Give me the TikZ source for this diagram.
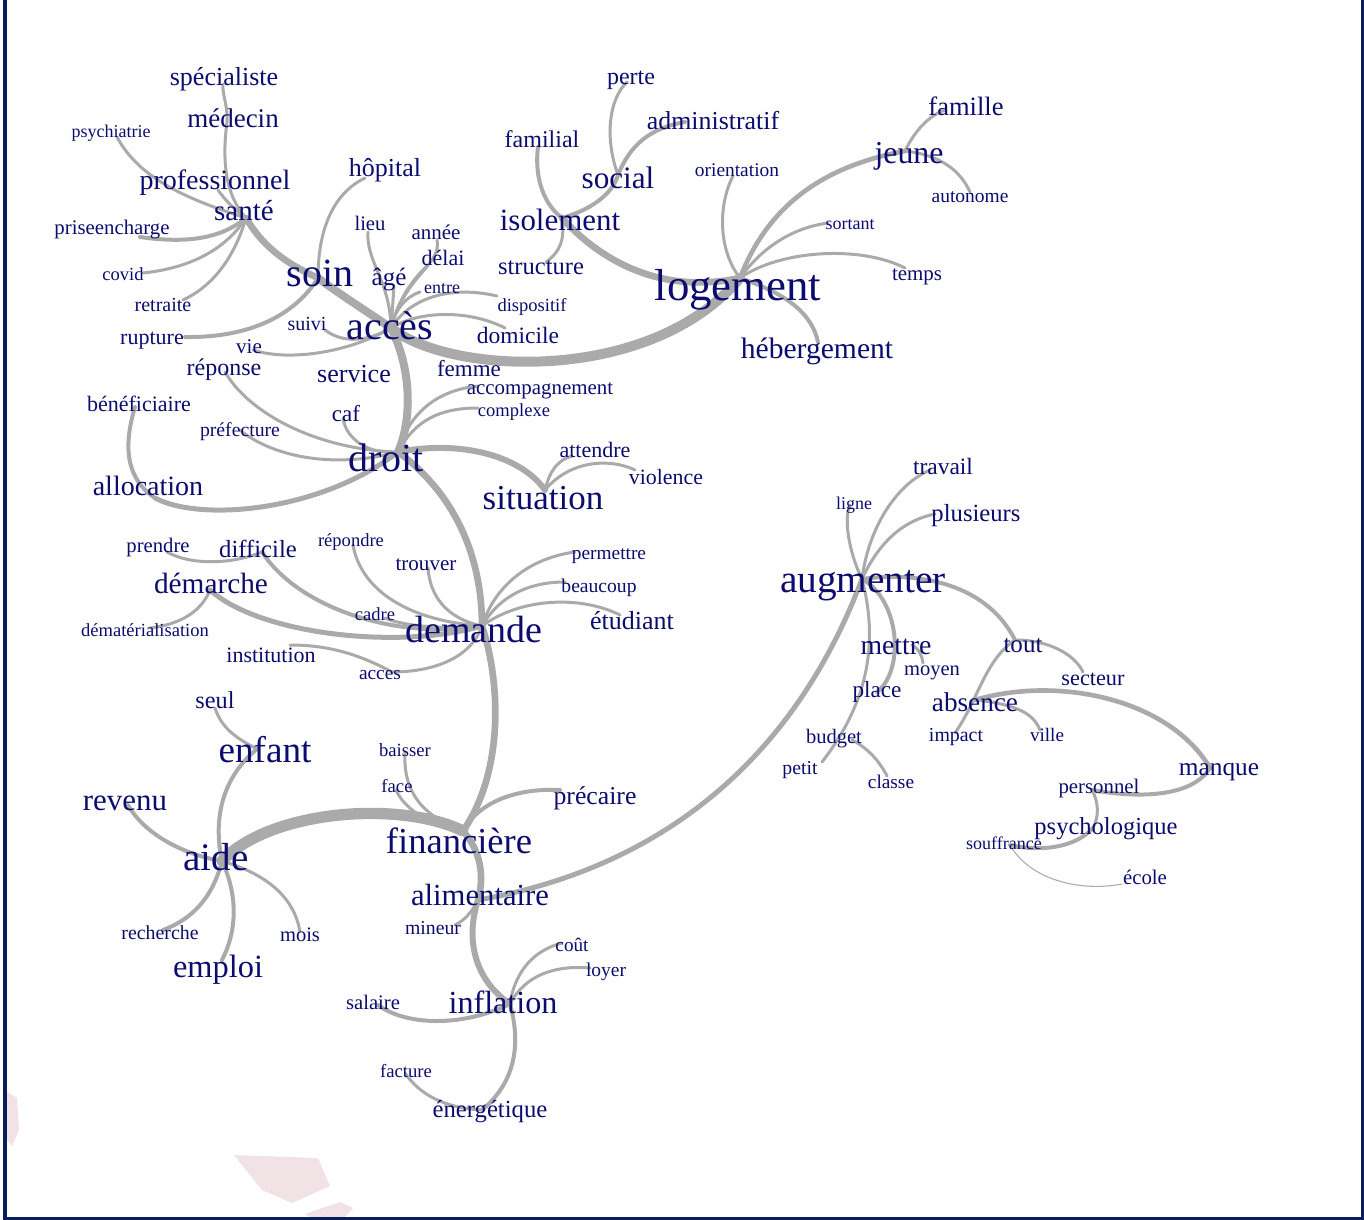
\documentclass[tikz,border=0pt]{standalone}
\usepackage{fontspec}
\setmainfont{Liberation Serif}
\begin{document}
\definecolor{wordc}{RGB}{12,12,112}
\definecolor{edgec}{RGB}{170,170,170}
\definecolor{framec}{RGB}{8,30,92}
\definecolor{stainc}{RGB}{240,226,229}
\begin{tikzpicture}[x=0.75pt,y=-0.75pt,
  w/.style={text=wordc,inner sep=0pt,yshift=-2.25pt,font=\fontsize{#1}{#1}\selectfont,execute at begin node=\vphantom{lp}},
  e/.style={draw=edgec,line width=#1,line cap=round},
  e/.default=2.25pt]
\useasboundingbox (0,0) rectangle (1364,1220);
% faint stains
\fill[stainc] (7,1092) -- (17,1098) -- (19,1130) -- (12,1146) -- (7,1140) -- cycle;
\fill[stainc] (234,1155) -- (318,1158) -- (330,1186) -- (292,1203) -- (262,1190) -- cycle;
\fill[stainc] (305,1214) -- (340,1202) -- (353,1208) -- (345,1217) -- (310,1217) -- cycle;
% anchor points
\coordinate (p-spec) at (223,84);
\coordinate (p-med) at (227,122);
\coordinate (p-prof) at (218,190);
\coordinate (p-psy) at (117,137);
\coordinate (p-prise) at (140,237);
\coordinate (p-covid) at (143,273);
\coordinate (p-retr) at (183,300);
\coordinate (p-rupt) at (185,337);
\coordinate (p-sante) at (246,218);
\coordinate (p-soin) at (318,278);
\coordinate (p-hop) at (365,178);
\coordinate (p-lieu) at (368,232);
\coordinate (p-annee) at (437,240);
\coordinate (p-delai) at (428,265);
\coordinate (p-age) at (394,286);
\coordinate (p-entre) at (420,292);
\coordinate (p-suivi) at (325,330);
\coordinate (p-vie) at (253,350);
\coordinate (p-acces) at (391,328);
\coordinate (p-reponse) at (225,372);
\coordinate (p-prefecture) at (240,430);
\coordinate (p-caf) at (343,418);
\coordinate (p-droit) at (398,452);
\coordinate (p-benef) at (135,407);
\coordinate (p-alloc) at (155,498);
\coordinate (p-accomp) at (478,386);
\coordinate (p-complexe) at (478,408);
\coordinate (p-situation) at (545,490);
\coordinate (p-attendre) at (572,456);
\coordinate (p-violence) at (635,470);
\coordinate (p-perte) at (627,82);
\coordinate (p-admin) at (685,122);
\coordinate (p-familial) at (538,147);
\coordinate (p-social) at (618,175);
\coordinate (p-isol) at (562,218);
\coordinate (p-struct) at (546,262);
\coordinate (p-disp) at (497,296);
\coordinate (p-domicile) at (505,328);
\coordinate (p-orient) at (733,176);
\coordinate (p-logement) at (740,278);
\coordinate (p-heberg) at (818,342);
\coordinate (p-jeune) at (905,151);
\coordinate (p-famille) at (945,110);
\coordinate (p-autonome) at (970,192);
\coordinate (p-sortant) at (828,223);
\coordinate (p-temps) at (905,268);
\coordinate (p-prendre) at (167,552);
\coordinate (p-difficile) at (262,552);
\coordinate (p-repondre) at (353,545);
\coordinate (p-trouver) at (428,568);
\coordinate (p-demarche) at (210,590);
\coordinate (p-demat) at (150,628);
\coordinate (p-cadre) at (385,618);
\coordinate (p-demande) at (482,626);
\coordinate (p-permettre) at (575,552);
\coordinate (p-beaucoup) at (565,582);
\coordinate (p-etudiant) at (620,615);
\coordinate (p-institution) at (290,645);
\coordinate (p-acces2) at (392,672);
\coordinate (p-seul) at (215,708);
\coordinate (p-enfant) at (257,749);
\coordinate (p-revenu) at (128,805);
\coordinate (p-aide) at (222,861);
\coordinate (p-recherche) at (163,930);
\coordinate (p-mois) at (300,932);
\coordinate (p-emploi) at (222,960);
\coordinate (p-baisser) at (405,752);
\coordinate (p-face) at (396,790);
\coordinate (p-precaire) at (560,790);
\coordinate (p-fin) at (463,831);
\coordinate (p-alim) at (478,900);
\coordinate (p-mineur) at (455,925);
\coordinate (p-cout) at (562,943);
\coordinate (p-loyer) at (590,968);
\coordinate (p-salaire) at (378,1005);
\coordinate (p-inflation) at (510,1004);
\coordinate (p-facture) at (405,1073);
\coordinate (p-energ) at (482,1110);
\coordinate (p-travail) at (930,470);
\coordinate (p-ligne) at (850,505);
\coordinate (p-plusieurs) at (935,514);
\coordinate (p-augm) at (862,579);
\coordinate (p-place) at (877,692);
\coordinate (p-petit) at (822,762);
\coordinate (p-mettre) at (912,645);
\coordinate (p-moyen) at (923,663);
\coordinate (p-budget) at (852,740);
\coordinate (p-classe) at (887,776);
\coordinate (p-tout) at (1015,640);
\coordinate (p-impact) at (955,733);
\coordinate (p-secteur) at (1083,672);
\coordinate (p-absence) at (975,700);
\coordinate (p-ville) at (1040,730);
\coordinate (p-manque) at (1210,768);
\coordinate (p-personnel) at (1092,790);
\coordinate (p-psycho) at (1093,828);
\coordinate (p-souff) at (1010,845);
\coordinate (p-ecole) at (1122,884);
% ---------- edges ----------
% sante cluster
\draw[e] (p-spec) .. controls (222,95) and (228,105) .. (p-med);
\draw[e] (p-med) .. controls (222,160) and (225,195) .. (p-sante);
\draw[e] (p-prof) .. controls (225,200) and (235,210) .. (p-sante);
\draw[e] (p-psy) .. controls (140,180) and (190,200) .. (p-sante);
\draw[e=3pt] (p-prise) .. controls (195,245) and (225,235) .. (p-sante);
\draw[e] (p-covid) .. controls (190,268) and (225,250) .. (p-sante);
\draw[e] (p-retr) .. controls (215,285) and (235,255) .. (p-sante);
\draw[e=5pt] (p-sante) .. controls (265,250) and (290,265) .. (p-soin);
\draw[e=3pt] (p-rupt) .. controls (250,338) and (295,315) .. (p-soin);
\draw[e] (p-hop) .. controls (330,195) and (318,235) .. (p-soin);
\draw[e=6pt] (p-soin) .. controls (345,298) and (368,312) .. (p-acces);
% acces cluster
\draw[e] (p-lieu) .. controls (366,262) and (390,280) .. (p-acces);
\draw[e] (p-age) .. controls (393,300) and (392,315) .. (p-acces);
\draw[e] (p-annee) .. controls (442,265) and (405,275) .. (p-acces);
\draw[e] (p-delai) .. controls (412,280) and (398,300) .. (p-acces);
\draw[e] (p-entre) .. controls (405,297) and (395,310) .. (p-acces);
\draw[e] (p-suivi) .. controls (345,345) and (370,340) .. (p-acces);
\draw[e] (p-vie) .. controls (290,362) and (350,352) .. (p-acces);
\draw[e] (p-acces) .. controls (410,298) and (450,285) .. (p-disp);
\draw[e] (p-acces) .. controls (420,310) and (470,310) .. (p-domicile);
\draw[e=7.5pt] (p-acces) .. controls (450,375) and (650,385) .. (p-logement);
\draw[e=6pt] (p-acces) .. controls (412,370) and (412,420) .. (p-droit);
% isolement / logement
\draw[e=5pt] (p-isol) .. controls (600,260) and (660,295) .. (p-logement);
\draw[e=3pt] (p-isol) .. controls (590,210) and (612,195) .. (p-social);
\draw[e=3pt] (p-familial) .. controls (534,180) and (545,205) .. (p-isol);
\draw[e] (p-struct) .. controls (560,252) and (565,240) .. (p-isol);
\draw[e] (p-social) .. controls (605,140) and (608,100) .. (p-perte);
\draw[e=3pt] (p-social) .. controls (630,145) and (650,128) .. (p-admin);
\draw[e] (p-orient) .. controls (718,205) and (718,250) .. (p-logement);
\draw[e=3.5pt] (p-logement) .. controls (770,200) and (830,165) .. (p-jeune);
\draw[e] (p-logement) .. controls (760,250) and (790,228) .. (p-sortant);
\draw[e] (p-logement) .. controls (780,250) and (860,245) .. (p-temps);
\draw[e=3pt] (p-logement) .. controls (790,295) and (812,315) .. (p-heberg);
\draw[e] (p-jeune) .. controls (915,130) and (930,115) .. (p-famille);
\draw[e] (p-jeune) .. controls (940,155) and (960,170) .. (p-autonome);
% droit cluster
\draw[e] (p-reponse) .. controls (250,415) and (320,450) .. (p-droit);
\draw[e] (p-prefecture) .. controls (270,455) and (330,470) .. (p-droit);
\draw[e] (p-caf) .. controls (346,440) and (370,455) .. (p-droit);
\draw[e=3pt] (p-benef) .. controls (122,450) and (128,480) .. (p-alloc);
\draw[e=3.75pt] (p-alloc) .. controls (200,522) and (320,512) .. (p-droit);
\draw[e] (p-droit) .. controls (410,410) and (440,390) .. (p-accomp);
\draw[e] (p-droit) .. controls (415,420) and (440,408) .. (p-complexe);
\draw[e=4.5pt] (p-droit) .. controls (460,440) and (520,455) .. (p-situation);
\draw[e] (p-situation) .. controls (550,470) and (558,460) .. (p-attendre);
\draw[e] (p-situation) .. controls (570,460) and (610,458) .. (p-violence);
\draw[e=5pt] (p-droit) .. controls (450,490) and (482,550) .. (p-demande);
% demande cluster
\draw[e] (p-demande) .. controls (495,585) and (530,558) .. (p-permettre);
\draw[e] (p-demande) .. controls (500,595) and (530,582) .. (p-beaucoup);
\draw[e] (p-demande) .. controls (520,598) and (580,595) .. (p-etudiant);
\draw[e] (p-trouver) .. controls (430,595) and (445,618) .. (p-demande);
\draw[e] (p-repondre) .. controls (360,585) and (400,620) .. (p-demande);
\draw[e] (p-cadre) .. controls (400,625) and (440,630) .. (p-demande);
\draw[e=3pt] (p-difficile) .. controls (300,610) and (400,640) .. (p-demande);
\draw[e=3.75pt] (p-demarche) .. controls (260,635) and (400,650) .. (p-demande);
\draw[e] (p-prendre) .. controls (190,565) and (230,565) .. (p-difficile);
\draw[e] (p-demarche) .. controls (200,615) and (175,625) .. (p-demat);
\draw[e] (p-institution) .. controls (330,645) and (360,655) .. (p-acces2);
\draw[e] (p-acces2) .. controls (430,672) and (470,660) .. (p-demande);
\draw[e=5pt] (p-demande) .. controls (500,680) and (505,770) .. (p-fin);
% aide cluster
\draw[e] (p-seul) .. controls (222,730) and (240,740) .. (p-enfant);
\draw[e=3pt] (p-enfant) .. controls (225,775) and (212,815) .. (p-aide);
\draw[e=3pt] (p-revenu) .. controls (145,835) and (185,855) .. (p-aide);
\draw[e=8.5pt] (p-aide) .. controls (270,810) and (400,800) .. (p-fin);
\draw[e=3pt] (p-aide) .. controls (212,900) and (190,920) .. (p-recherche);
\draw[e=3pt] (p-aide) .. controls (240,900) and (235,935) .. (p-emploi);
\draw[e] (p-aide) .. controls (270,875) and (295,900) .. (p-mois);
% financiere cluster
\draw[e] (p-baisser) .. controls (403,790) and (420,815) .. (p-fin);
\draw[e] (p-face) .. controls (405,810) and (430,825) .. (p-fin);
\draw[e=3pt] (p-fin) .. controls (480,800) and (520,788) .. (p-precaire);
\draw[e=5pt] (p-fin) .. controls (480,850) and (485,875) .. (p-alim);
\draw[e=3.75pt] (p-alim) .. controls (650,870) and (790,770) .. (p-augm);
\draw[e] (p-alim) .. controls (472,912) and (465,920) .. (p-mineur);
\draw[e=4.5pt] (p-alim) .. controls (465,940) and (475,980) .. (p-inflation);
\draw[e] (p-inflation) .. controls (515,970) and (535,950) .. (p-cout);
\draw[e] (p-inflation) .. controls (525,975) and (555,965) .. (p-loyer);
\draw[e=3pt] (p-inflation) .. controls (460,1028) and (405,1025) .. (p-salaire);
\draw[e=3pt] (p-inflation) .. controls (520,1040) and (518,1080) .. (p-energ);
\draw[e] (p-facture) .. controls (420,1095) and (445,1108) .. (p-energ);
% augmenter cluster
\draw[e] (p-augm) .. controls (868,530) and (895,485) .. (p-travail);
\draw[e] (p-augm) .. controls (850,555) and (843,520) .. (p-ligne);
\draw[e] (p-augm) .. controls (880,540) and (905,520) .. (p-plusieurs);
\draw[e=3pt] (p-augm) .. controls (930,570) and (990,590) .. (p-tout);
\draw[e=3pt] (p-augm) .. controls (900,600) and (905,670) .. (p-place);
\draw[e] (p-augm) .. controls (878,640) and (870,700) .. (p-petit);
\draw[e] (p-mettre) .. controls (920,650) and (922,656) .. (p-moyen);
\draw[e] (p-budget) .. controls (868,748) and (880,762) .. (p-classe);
\draw[e] (p-tout) .. controls (985,660) and (978,700) .. (p-impact);
\draw[e] (p-tout) .. controls (1050,640) and (1075,655) .. (p-secteur);
\draw[e] (p-absence) .. controls (1025,705) and (1035,718) .. (p-ville);
\draw[e=3.5pt] (p-absence) .. controls (1060,675) and (1170,700) .. (p-manque);
\draw[e=3pt] (p-manque) .. controls (1190,800) and (1130,797) .. (p-personnel);
\draw[e] (p-personnel) .. controls (1100,805) and (1098,818) .. (p-psycho);
\draw[e=3pt] (p-psycho) .. controls (1075,848) and (1040,852) .. (p-souff);
\draw[e=0.8pt] (p-souff) .. controls (1030,880) and (1080,892) .. (p-ecole);
% ---------- words ----------
\node[w=19.5] (specialiste) at (224,76) {spécialiste};
\node[w=20.25] (medecin) at (233,118) {médecin};
\node[w=13.5] (psychiatrie) at (111,130) {psychiatrie};
\node[w=21] (professionnel) at (215,180) {professionnel};
\node[w=21.75] (sante) at (244,211) {santé};
\node[w=15.6] (priseencharge) at (112,227) {priseencharge};
\node[w=13.9] (covid) at (123,273) {covid};
\node[w=15] (retraite) at (163,304) {retraite};
\node[w=16.5] (rupture) at (152,336) {rupture};
\node[w=19.5] (hopital) at (385,167) {hôpital};
\node[w=30] (soin) at (320,274) {soin};
\node[w=15.5] (lieu) at (370,223) {lieu};
\node[w=15.75] (annee) at (436,231) {année};
\node[w=16.5] (delai) at (443,257) {délai};
\node[w=18.75] (age) at (389,276) {âgé};
\node[w=13.5] (entre) at (442,286) {entre};
\node[w=15] (suivi) at (307,323) {suivi};
\node[w=30] (acces) at (390,327) {accès};
\node[w=15.75] (vie) at (249,345) {vie};
\node[w=18] (reponse) at (224,367) {réponse};
\node[w=19.5] (service) at (354,373) {service};
\node[w=17.25] (femme) at (469,368) {femme};
\node[w=15.7] (accompagnement) at (540,386) {accompagnement};
\node[w=13.9] (complexe) at (514,409) {complexe};
\node[w=16.5] (beneficiaire) at (139,403) {bénéficiaire};
\node[w=14.8] (prefecture) at (240,429) {préfecture};
\node[w=17.25] (caf) at (346,413) {caf};
\node[w=30] (droit) at (386,459) {droit};
\node[w=21] (allocation) at (148,486) {allocation};
\node[w=16.5] (attendre) at (595,449) {attendre};
\node[w=16.4] (violence) at (666,476) {violence};
\node[w=26.25] (situation) at (543,498) {situation};
\node[w=18] (perte) at (631,76) {perte};
\node[w=19.4] (administratif) at (713,120) {administratif};
\node[w=18] (familial) at (542,139) {familial};
\node[w=23.4] (social) at (618,178) {social};
\node[w=14.55] (orientation) at (737,169) {orientation};
\node[w=23.2] (isolement) at (560,220) {isolement};
\node[w=18.4] (structure) at (541,266) {structure};
\node[w=13.9] (dispositif) at (532,304) {dispositif};
\node[w=17.6] (domicile) at (518,335) {domicile};
\node[w=33.6] (logement) at (738,287) {logement};
\node[w=22.2] (hebergement) at (817,348) {hébergement};
\node[w=19.9] (famille) at (966,106) {famille};
\node[w=23.9] (jeune) at (909,153) {jeune};
\node[w=14.6] (autonome) at (970,195) {autonome};
\node[w=13.5] (sortant) at (850,222) {sortant};
\node[w=15.7] (temps) at (917,272) {temps};
\node[w=15.5] (prendre) at (158,545) {prendre};
\node[w=18.5] (difficile) at (258,548) {difficile};
\node[w=13.9] (repondre) at (351,539) {répondre};
\node[w=15.8] (trouver) at (426,562) {trouver};
\node[w=22] (demarche) at (211,583) {démarche};
\node[w=13.9] (dematerialisation) at (145,629) {dématérialisation};
\node[w=13.9] (cadre) at (375,613) {cadre};
\node[w=28.5] (demande) at (474,630) {demande};
\node[w=14.5] (permettre) at (609,552) {permettre};
\node[w=14.7] (beaucoup) at (599,585) {beaucoup};
\node[w=19.5] (etudiant) at (632,620) {étudiant};
\node[w=16.5] (institution) at (271,654) {institution};
\node[w=14.55] (acces2) at (380,672) {acces};
\node[w=18.2] (seul) at (215,700) {seul};
\node[w=27.9] (enfant) at (265,750) {enfant};
\node[w=23.2] (revenu) at (125,800) {revenu};
\node[w=29.3] (aide) at (216,858) {aide};
\node[w=14.9] (recherche) at (160,932) {recherche};
\node[w=15.4] (mois) at (300,934) {mois};
\node[w=24.3] (emploi) at (218,967) {emploi};
\node[w=14] (baisser) at (405,749) {baisser};
\node[w=14] (face) at (397,785) {face};
\node[w=19.3] (precaire) at (595,795) {précaire};
\node[w=27.4] (financiere) at (459,842) {financière};
\node[w=23] (alimentaire) at (480,895) {alimentaire};
\node[w=14.8] (mineur) at (433,927) {mineur};
\node[w=14.4] (cout) at (572,944) {coût};
\node[w=14.6] (loyer) at (606,969) {loyer};
\node[w=15.5] (salaire) at (373,1002) {salaire};
\node[w=24.1] (inflation) at (503,1003) {inflation};
\node[w=14] (facture) at (406,1070) {facture};
\node[w=18.5] (energetique) at (490,1109) {énergétique};
\node[w=17.6] (travail) at (943,466) {travail};
\node[w=13.5] (ligne) at (854,502) {ligne};
\node[w=18.5] (plusieurs) at (976,513) {plusieurs};
\node[w=29.5] (augmenter) at (863,580) {augmenter};
\node[w=20.8] (mettre) at (896,645) {mettre};
\node[w=15.4] (moyen) at (932,668) {moyen};
\node[w=17.4] (place) at (877,689) {place};
\node[w=18.8] (tout) at (1023,643) {tout};
\node[w=16.7] (secteur) at (1093,677) {secteur};
\node[w=20.4] (absence) at (975,702) {absence};
\node[w=15.4] (budget) at (834,736) {budget};
\node[w=14.9] (impact) at (956,734) {impact};
\node[w=14.3] (ville) at (1047,734) {ville};
\node[w=14.8] (petit) at (800,767) {petit};
\node[w=14.5] (classe) at (891,781) {classe};
\node[w=19] (manque) at (1219,766) {manque};
\node[w=15.6] (personnel) at (1099,785) {personnel};
\node[w=18.4] (psychologique) at (1106,826) {psychologique};
\node[w=13.5] (souffrance) at (1004,842) {souffrance};
\node[w=15.6] (ecole) at (1145,876) {école};
% frame
\fill[framec] (3,0) rectangle (7,1220);
\fill[framec] (1361,0) rectangle (1364,1220);
\fill[framec] (3,1217) rectangle (1364,1220);
\end{tikzpicture}
\end{document}
